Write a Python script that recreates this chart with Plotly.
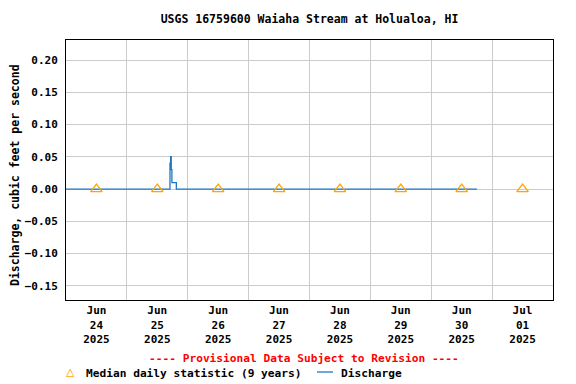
import plotly.graph_objects as go

# ---- data ----
discharge_times = [
    "2025-06-24 00:00", "2025-06-25 16:45", "2025-06-25 17:00", "2025-06-25 17:15",
    "2025-06-25 17:30", "2025-06-25 17:45", "2025-06-25 19:15", "2025-06-25 19:30",
    "2025-06-30 18:00",
]
discharge_values = [0.0, 0.0, 0.04, 0.05, 0.03, 0.01, 0.01, 0.0, 0.0]

median_dates = [
    "2025-06-24 12:00", "2025-06-25 12:00", "2025-06-26 12:00", "2025-06-27 12:00",
    "2025-06-28 12:00", "2025-06-29 12:00", "2025-06-30 12:00", "2025-07-01 12:00",
]
median_values = [0.0, 0.0, 0.0, 0.0, 0.0, 0.0, 0.0, 0.0]

tick_labels = [
    "Jun<br>24<br>2025", "Jun<br>25<br>2025", "Jun<br>26<br>2025", "Jun<br>27<br>2025",
    "Jun<br>28<br>2025", "Jun<br>29<br>2025", "Jun<br>30<br>2025", "Jul<br>01<br>2025",
]
y_ticks = [0.20, 0.15, 0.10, 0.05, 0.00, -0.05, -0.10, -0.15]

FONT = "DejaVu Sans Mono"
OFF = 8  # page body margin
W, H = 576 - OFF, 384 - OFF
# plot area in viewport pixels: x 66..553, y 40..300
L, T = 66 - OFF, 40 - OFF
R, B = W - (553 - OFF), H - (300 - OFF)
PW, PH = W - L - R, H - T - B


def px(x):
    return (x - OFF - L) / PW


def py(y):
    return (H - B - (y - OFF)) / PH


fig = go.Figure()
fig.add_trace(go.Scatter(
    x=discharge_times, y=discharge_values, mode="lines",
    line=dict(color="#1f77c4", width=1.3, shape="hv"), name="Discharge",
    showlegend=False,
))
fig.add_trace(go.Scatter(
    x=median_dates, y=median_values, mode="markers",
    marker=dict(symbol="triangle-up-open", size=10, color="#FFA500",
                line=dict(width=1.3, color="#FFA500")),
    name="Median daily statistic (9 years)", showlegend=False,
))

fig.update_layout(
    width=W, height=H,
    margin=dict(l=L, r=R, t=T, b=B),
    plot_bgcolor="white", paper_bgcolor="white",
    font=dict(family=FONT, size=11, color="black"),
    title=dict(text="<b>USGS 16759600 Waiaha Stream at Holualoa, HI</b>",
               x=(309.5 - OFF) / W, xanchor="center", y=1 - (19 - OFF) / H, yanchor="middle",
               font=dict(family=FONT, size=11.5, color="black")),
    xaxis=dict(
        range=["2025-06-24 00:00", "2025-07-02 00:00"],
        tickmode="array", tickvals=median_dates, ticktext=["<b>%s</b>" % t for t in tick_labels],
        showgrid=False, ticks="", zeroline=False,
        minor=dict(tickmode="linear", tick0="2025-06-24", dtick=86400000,
                   showgrid=True, gridcolor="#CCCCCC", gridwidth=1, ticks=""),
        showline=True, linecolor="black", linewidth=1, mirror=True,
        tickfont=dict(family=FONT, size=11),
    ),
    yaxis=dict(
        range=[-0.172, 0.231],
        tickmode="array", tickvals=y_ticks,
        ticktext=["<b>%s</b>" % ("%.2f" % v).replace("-", "\u2212") for v in y_ticks],
        showgrid=True, gridcolor="#CCCCCC", gridwidth=1, zeroline=False, ticks="",
        showline=True, linecolor="black", linewidth=1, mirror=True,
        tickfont=dict(family=FONT, size=11),
        ticklabelstandoff=5,
    ),
    showlegend=False,
)

ann = [
    dict(text="<b>Discharge, cubic feet per second</b>", textangle=-90,
         x=px(15), y=py(175), xref="paper", yref="paper",
         xanchor="center", yanchor="middle", showarrow=False,
         font=dict(family=FONT, size=11.5, color="black")),
    dict(text="<b>---- Provisional Data Subject to Revision ----</b>",
         x=px(304), y=py(358), xref="paper", yref="paper",
         xanchor="center", yanchor="middle", showarrow=False,
         font=dict(family=FONT, size=11.2, color="red")),
    dict(text="\u25b3", x=px(70), y=py(371), xref="paper", yref="paper",
         xanchor="center", yanchor="middle", showarrow=False,
         font=dict(family=FONT, size=14, color="#FFA500")),
    dict(text="<b>Median daily statistic (9 years)</b>",
         x=px(84), y=py(373), xref="paper", yref="paper",
         xanchor="left", yanchor="middle", showarrow=False,
         font=dict(family=FONT, size=11.2, color="black")),
    dict(text="<b>Discharge</b>",
         x=px(339), y=py(373), xref="paper", yref="paper",
         xanchor="left", yanchor="middle", showarrow=False,
         font=dict(family=FONT, size=11.2, color="black")),
]
fig.update_layout(annotations=ann)
fig.add_shape(type="line", xref="paper", yref="paper",
              x0=px(317), x1=px(333), y0=py(372), y1=py(372),
              line=dict(color="#1f77c4", width=1.3))

fig.write_html("out.html")
